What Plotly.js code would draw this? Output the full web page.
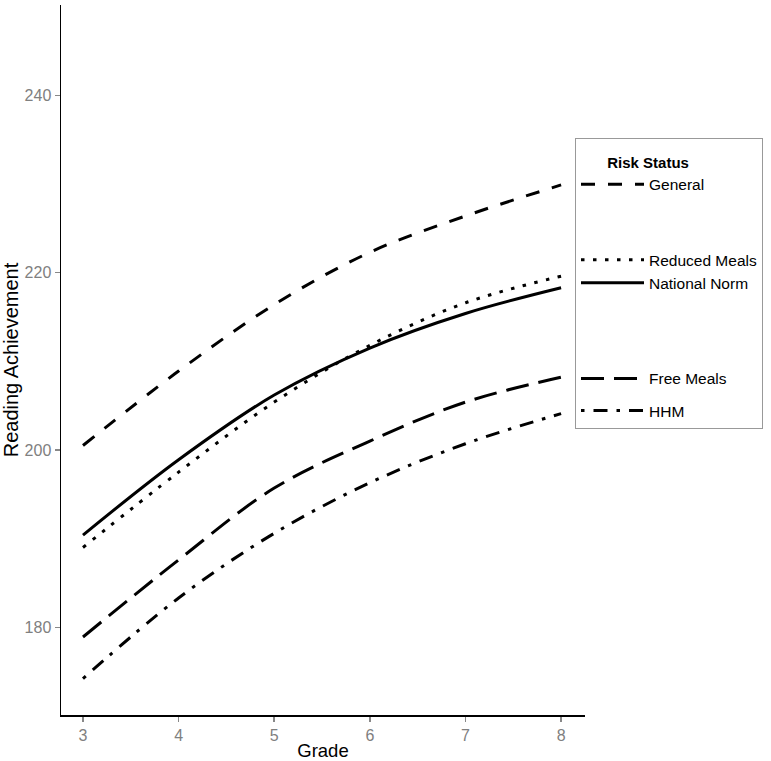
<!DOCTYPE html>
<html>
<head>
<meta charset="utf-8">
<script src="https://cdn.plot.ly/plotly-3.0.1.min.js"></script>
<style>html,body{margin:0;padding:0;background:#fff;}#chart{width:771px;height:761px;}</style>
</head>
<body>
<div id="chart"></div>
<script>
const grades = [3, 4, 5, 6, 7, 8];
const general = [200.5, 208.9, 216.4, 222.3, 226.4, 229.9];
const reducedMeals = [189.0, 197.5, 205.4, 211.8, 216.6, 219.6];
const nationalNorm = [190.4, 198.9, 206.2, 211.5, 215.4, 218.3];
const freeMeals = [178.9, 187.6, 195.7, 201.0, 205.4, 208.2];
const hhm = [174.2, 183.3, 190.6, 196.3, 200.7, 204.1];
const seriesNames = ["General", "Reduced Meals", "National Norm", "Free Meals", "HHM"];
const yTicks = [180, 200, 220, 240];
const xTicks = [3, 4, 5, 6, 7, 8];

function line(y, name, dash, group) {
  return {x: grades, y: y, name: name, type: 'scatter', mode: 'lines',
    line: {color: '#000', width: 3, dash: dash, shape: 'spline'}, legendgroup: group};
}
function blank(group, lines) {
  return {x: [null], y: [null], name: lines, type: 'scatter', mode: 'lines',
    line: {color: 'rgba(0,0,0,0)', width: 0}, legendgroup: group, hoverinfo: 'skip'};
}
const data = [
  line(general, seriesNames[0], '14px,13px', 'g1'),
  blank('g1', ' <br> '),
  line(reducedMeals, seriesNames[1], '3.5px,8.5px', 'g2'),
  line(nationalNorm, seriesNames[2], 'solid', 'g2'),
  blank('g2', ' <br> <br> '),
  line(freeMeals, seriesNames[3], '23px,10px', 'g3'),
  line(hhm, seriesNames[4], '3.5px,9px,14px,9px', 'g4')
];
const layout = {
  width: 771, height: 761,
  margin: {l: 61, r: 186, t: 5, b: 46},
  paper_bgcolor: '#fff', plot_bgcolor: '#fff',
  font: {family: 'Liberation Sans, Arial, sans-serif', color: '#000'},
  showlegend: true,
  legend: {
    xref: 'paper', yref: 'paper', xanchor: 'left', yanchor: 'top',
    title: {text: '<span style="font-size:15px">&nbsp;&nbsp;&nbsp;&nbsp;&nbsp;&nbsp;&nbsp;<b>Risk Status</b></span>', font: {size: 22, color: '#000'}},
    font: {size: 15.5, color: '#000'},
    bordercolor: '#999', borderwidth: 1, bgcolor: '#fff',
    tracegroupgap: 9, traceorder: 'grouped', itemwidth: 63
  },
  xaxis: {
    range: [2.77, 8.25], tickvals: xTicks, ticktext: xTicks.map(String),
    showgrid: false, zeroline: false, showline: true, linecolor: '#000', linewidth: 1.5,
    ticks: 'outside', ticklen: 5, tickcolor: '#888', tickwidth: 1.5,
    tickfont: {size: 16, color: '#808080'},
    title: {text: 'Grade', font: {size: 18.5, color: '#000'}, standoff: 3}
  },
  yaxis: {
    range: [170.1, 250.2], tickvals: yTicks, ticktext: yTicks.map(String),
    showgrid: false, zeroline: false, showline: true, linecolor: '#000', linewidth: 1.5,
    ticks: 'outside', ticklen: 5, tickcolor: '#888', tickwidth: 1.5,
    tickfont: {size: 16, color: '#808080'},
    title: {text: 'Reading Achievement', font: {size: 20, color: '#000'}, standoff: 2}
  }
};
layout.legend.x = (575 - 61) / (771 - 61 - 186);
layout.legend.y = 1 - (138 - 5) / (761 - 5 - 46);
Plotly.newPlot('chart', data, layout, {displayModeBar: false, staticPlot: true});
</script>
</body>
</html>
